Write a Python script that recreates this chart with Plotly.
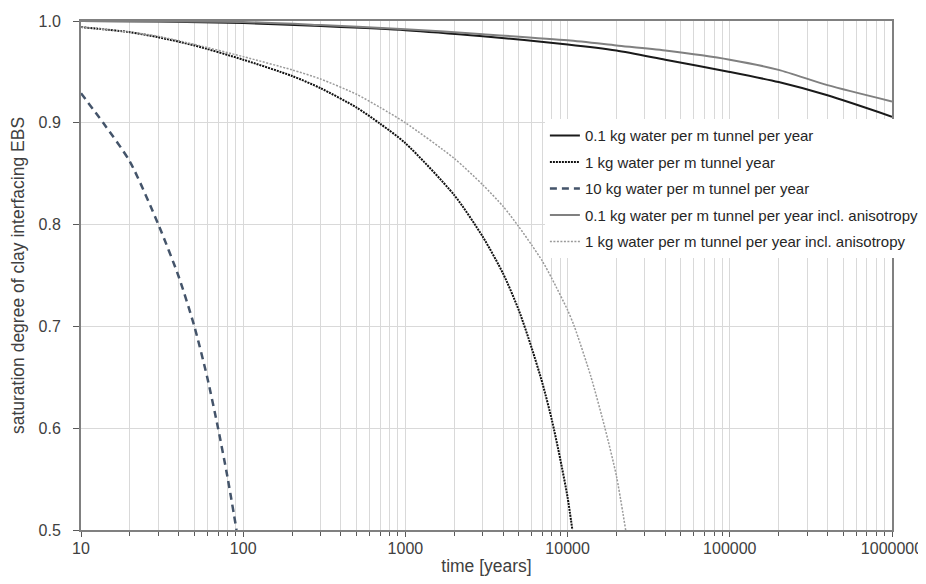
import plotly.graph_objects as go

# ---- data ----
t_01 = [10, 30, 100, 300, 1000, 3000, 10000, 20000, 40000, 100000, 200000, 400000, 1000000]
v_01 = [1.000, 0.9995, 0.998, 0.995, 0.991, 0.985, 0.977, 0.971, 0.962, 0.950, 0.940, 0.927, 0.906]

t_1 = [10, 20, 30, 50, 100, 200, 300, 500, 700, 1000, 2000, 3000, 4000, 5000, 6000, 7000, 8000, 9000, 10000, 10700]
v_1 = [0.994, 0.989, 0.984, 0.976, 0.962, 0.946, 0.934, 0.915, 0.899, 0.880, 0.829, 0.788, 0.752, 0.716, 0.679, 0.644, 0.608, 0.570, 0.532, 0.500]

t_10 = [10, 13.7, 20, 30, 40, 50, 60, 70, 80, 91]
v_10 = [0.929, 0.900, 0.862, 0.800, 0.749, 0.700, 0.650, 0.600, 0.552, 0.500]

t_01a = [10, 100, 300, 1000, 3000, 10000, 20000, 40000, 100000, 200000, 400000, 1000000]
v_01a = [1.000, 0.999, 0.996, 0.992, 0.987, 0.981, 0.976, 0.971, 0.962, 0.952, 0.937, 0.921]

t_1a = [10, 20, 30, 50, 100, 200, 300, 500, 700, 1000, 2000, 3000, 4000, 5000, 6000, 7000, 8000, 10000, 11000, 13900, 17000, 20000, 22800]
v_1a = [0.994, 0.989, 0.985, 0.977, 0.965, 0.952, 0.943, 0.928, 0.915, 0.900, 0.865, 0.839, 0.818, 0.798, 0.780, 0.764, 0.747, 0.716, 0.700, 0.651, 0.600, 0.553, 0.500]

names = [
    "0.1 kg water per m tunnel per year",
    "1 kg water per m tunnel year",
    "10 kg water per m tunnel per year",
    "0.1 kg water per m tunnel per year incl. anisotropy",
    "1 kg water per m tunnel per year incl. anisotropy",
]

x_tickvals = [10, 100, 1000, 10000, 100000, 1000000]
x_ticktext = ["10", "100", "1000", "10000", "100000", "1000000"]
y_tickvals = [0.5, 0.6, 0.7, 0.8, 0.9, 1.0]

FONT = "Liberation Sans, Arial, sans-serif"

series = [
    (t_01, v_01, dict(color="#1a1a1a", width=2, dash="solid")),
    (t_1, v_1, dict(color="#111111", width=2, dash="2px,1px")),
    (t_10, v_10, dict(color="#44546a", width=2.5, dash="7px,5px")),
    (t_01a, v_01a, dict(color="#808080", width=2, dash="solid")),
    (t_1a, v_1a, dict(color="#9a9a9a", width=1.5, dash="2px,1.5px")),
]

fig = go.Figure()
for i, ((tx, vy, ln), nm) in enumerate(zip(series, names)):
    fig.add_trace(go.Scatter(
        x=tx, y=vy, mode="lines", name=nm, legendgroup=f"g{i}",
        line=dict(shape="spline", smoothing=0.7, **ln),
    ))

fig.update_layout(
    width=926, height=568,
    margin=dict(l=73, r=42, t=13, b=46, autoexpand=False),
    paper_bgcolor="white", plot_bgcolor="white",
    font=dict(family=FONT, size=16, color="#404040"),
    showlegend=True,
    legend=dict(
        x=0.572, y=0.807, xanchor="left", yanchor="top",
        bgcolor="white", borderwidth=0,
        font=dict(family=FONT, size=15, color="#262626"),
        tracegroupgap=4, traceorder="grouped",
    ),
    xaxis=dict(
        type="log", range=[1, 6],
        tickvals=x_tickvals, ticktext=x_ticktext,
        ticks="outside", ticklen=5, tickwidth=1, tickcolor="#595959",
        showline=True, linecolor="#808080", linewidth=2, mirror=True,
        showgrid=True, gridcolor="#d9d9d9", gridwidth=1,
        minor=dict(ticks="outside", ticklen=4, tickcolor="#595959", showgrid=True,
                   gridcolor="#d9d9d9", gridwidth=1, dtick="D1"),
        zeroline=False, automargin=False,
        ticklabelstandoff=-2,
        title=dict(text="time [years]", font=dict(size=17.5, color="#404040"), standoff=5),
        tickfont=dict(size=16, color="#404040"),
    ),
    yaxis=dict(
        range=[0.5, 1.0],
        tickvals=y_tickvals, tickformat=".1f",
        ticks="outside", ticklen=6, tickwidth=1, tickcolor="#595959",
        showline=True, linecolor="#808080", linewidth=2, mirror=True,
        showgrid=True, gridcolor="#d9d9d9", gridwidth=1,
        zeroline=False, automargin=False,
        ticklabelstandoff=9,
        title=dict(text="saturation degree of clay interfacing EBS", font=dict(size=17.5, color="#404040"), standoff=9),
        tickfont=dict(size=16, color="#404040"),
    ),
)

fig.write_html("out.html")
